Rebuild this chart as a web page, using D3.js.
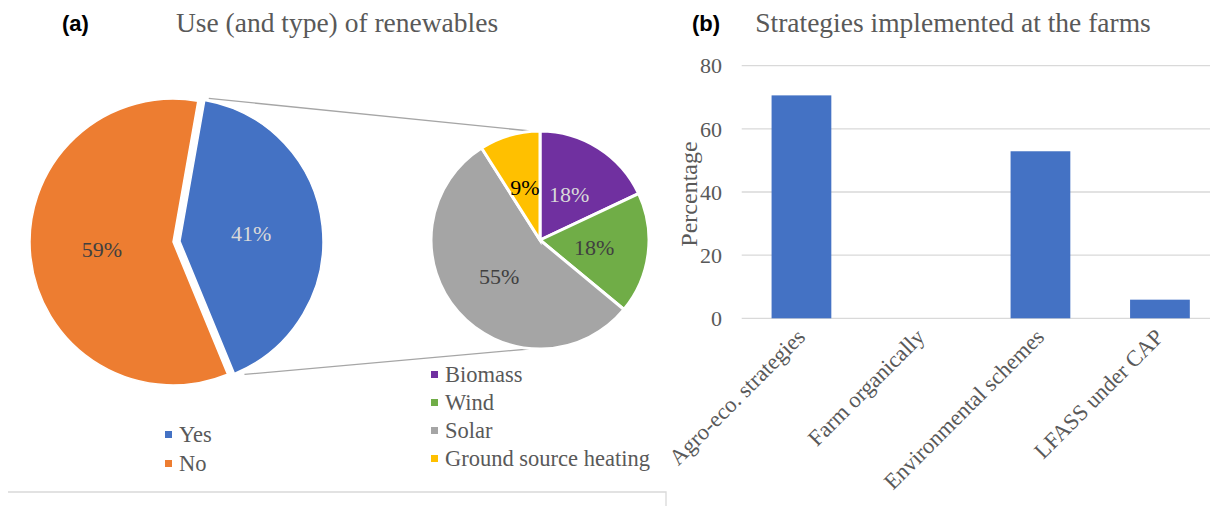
<!DOCTYPE html>
<html>
<head>
    <title>Renewables and strategies</title>
    <script src="https://d3js.org/d3.v7.min.js"></script>
    <style>
        body { margin: 0; background: #fff; }
        svg text { font-family: "Liberation Serif", "Times New Roman", serif; }
    </style>
</head>
<body>

<script>
// Panel (a): use of renewables
const useLabels = ['Yes', 'No'];
const useValues = [41, 59];
const useColors = ['#4472C4', '#ED7D31'];

// Panel (a): type of renewables (the "Yes" slice broken down)
const typeLabels = ['Biomass', 'Wind', 'Solar', 'Ground source heating'];
const typeValues = [18, 18, 55, 9];
const typeColors = ['#7030A0', '#70AD47', '#A5A5A5', '#FFC000'];

// Panel (b): strategies
const strategies = ['Agro-eco. strategies', 'Farm organically', 'Environmental schemes', 'LFASS under CAP'];
const strategyValues = [70.6, 0, 52.9, 5.9];
const yTicks = [0, 20, 40, 60, 80];

const W = 1210, H = 506;
const grey = '#595959';
const serif = '"Liberation Serif", "Times New Roman", serif';
const deg = Math.PI / 180;

const svg = d3.select('body')
    .append('svg')
    .attr('width', W)
    .attr('height', H);

// panel letters and titles
svg.append('text').attr('x', 62).attr('y', 31)
    .style('font-family', '"Liberation Sans", Arial, sans-serif')
    .style('font-weight', 'bold').style('font-size', '22px')
    .text('(a)');
svg.append('text').attr('x', 337).attr('y', 32)
    .attr('text-anchor', 'middle').style('font-family', serif)
    .style('font-size', '27.5px').attr('fill', grey)
    .text('Use (and type) of renewables');

svg.append('text').attr('x', 692).attr('y', 31)
    .style('font-family', '"Liberation Sans", Arial, sans-serif')
    .style('font-weight', 'bold').style('font-size', '22px')
    .text('(b)');
svg.append('text').attr('x', 953).attr('y', 32)
    .attr('text-anchor', 'middle').style('font-family', serif)
    .style('font-size', '27.5px').attr('fill', grey)
    .text('Strategies implemented at the farms');

// ---------- main pie ----------
const mainR = 143;
const mainC = [173, 242];
const explode = 7;

const mainPie = d3.pie().sort(null)
    .startAngle(10 * deg).endAngle(370 * deg)
    .value(d => d);
const mainArcs = mainPie(useValues);
const mainArc = d3.arc().innerRadius(0).outerRadius(mainR);

const gMain = svg.append('g').attr('transform', `translate(${mainC})`);

// offset of the exploded "Yes" slice
function offset(d, i) {
    if (i !== 0) return [0, 0];
    const a = (d.startAngle + d.endAngle) / 2;
    return [Math.sin(a) * explode, -Math.cos(a) * explode];
}

gMain.selectAll('path')
    .data(mainArcs)
    .enter()
    .append('path')
    .attr('transform', (d, i) => `translate(${offset(d, i)})`)
    .attr('d', mainArc)
    .attr('fill', (d, i) => useColors[i])
    .attr('stroke', '#fff')
    .attr('stroke-width', 1.5);

gMain.selectAll('text.lbl')
    .data(mainArcs)
    .enter()
    .append('text')
    .attr('class', 'lbl')
    .attr('transform', (d, i) => {
        const c = mainArc.centroid(d);
        const o = offset(d, i);
        return `translate(${c[0] + o[0]},${c[1] + o[1]})`;
    })
    .attr('text-anchor', 'middle')
    .attr('dy', '0.35em')
    .style('font-family', serif)
    .style('font-size', '22px')
    .attr('fill', (d, i) => i === 0 ? '#D9D9D9' : '#404040')
    .text(d => `${d.data}%`);

// ---------- secondary pie ----------
const subR = 109;
const subC = [540, 240];

const subPie = d3.pie().sort(null).value(d => d);
const subArcs = subPie(typeValues);
const subArc = d3.arc().innerRadius(0).outerRadius(subR);

// connector lines from the edges of the "Yes" slice to the secondary pie
const yes = mainArcs[0];
const yo = offset(yes, 0);
const edge = a => [mainC[0] + yo[0] + Math.sin(a) * mainR, mainC[1] + yo[1] - Math.cos(a) * mainR];
const p1 = edge(yes.startAngle), p2 = edge(yes.endAngle);
svg.append('line')
    .attr('x1', p1[0] + 4).attr('y1', p1[1] - 2)
    .attr('x2', subC[0]).attr('y2', subC[1] - subR + 1)
    .attr('stroke', '#A6A6A6').attr('stroke-width', 1.3);
svg.append('line')
    .attr('x1', p2[0] + 10).attr('y1', p2[1] + 1)
    .attr('x2', subC[0]).attr('y2', subC[1] + subR - 1)
    .attr('stroke', '#A6A6A6').attr('stroke-width', 1.3);

const gSub = svg.append('g').attr('transform', `translate(${subC})`);

gSub.selectAll('path')
    .data(subArcs)
    .enter()
    .append('path')
    .attr('d', subArc)
    .attr('fill', (d, i) => typeColors[i])
    .attr('stroke', '#fff')
    .attr('stroke-width', 3);

const subTextColors = ['#D9D9D9', '#404040', '#404040', '#000'];
gSub.selectAll('text')
    .data(subArcs)
    .enter()
    .append('text')
    .attr('transform', d => `translate(${subArc.centroid(d)})`)
    .attr('text-anchor', 'middle')
    .attr('dy', '0.35em')
    .style('font-family', serif)
    .style('font-size', '22px')
    .attr('fill', (d, i) => subTextColors[i])
    .text(d => `${d.data}%`);

// ---------- legends ----------
function legend(x, y, labels, colors, step) {
    const g = svg.append('g').attr('transform', `translate(${x},${y})`);
    const rows = g.selectAll('g')
        .data(labels)
        .enter()
        .append('g')
        .attr('transform', (d, i) => `translate(0,${i * step})`);
    rows.append('rect')
        .attr('x', 0).attr('y', -11)
        .attr('width', 7).attr('height', 7)
        .attr('fill', (d, i) => colors[i]);
    rows.append('text')
        .attr('x', 14).attr('y', 0)
        .style('font-family', serif)
        .style('font-size', '22.5px')
        .attr('fill', grey)
        .text(d => d);
}
legend(165, 442, useLabels, useColors, 29);
legend(431, 382, typeLabels, typeColors, 28);

// frame edge at the bottom of panel (a)
svg.append('path')
    .attr('d', 'M8,492H666V506')
    .attr('fill', 'none')
    .attr('stroke', '#D9D9D9')
    .attr('stroke-width', 1.3);

// ---------- bar chart ----------
const x = d3.scaleBand()
    .domain(strategies)
    .range([741.7, 1219.7])
    .paddingInner(0.5)
    .paddingOuter(0.25);
const y = d3.scaleLinear().domain([0, 80]).range([318.3, 65.7]);

const gBar = svg.append('g');

gBar.selectAll('line.grid')
    .data(yTicks)
    .enter()
    .append('line')
    .attr('class', 'grid')
    .attr('x1', 741.7).attr('x2', W)
    .attr('y1', d => y(d)).attr('y2', d => y(d))
    .attr('stroke', '#D9D9D9')
    .attr('stroke-width', 1.3);

gBar.selectAll('text.tick')
    .data(yTicks)
    .enter()
    .append('text')
    .attr('class', 'tick')
    .attr('x', 722)
    .attr('y', d => y(d))
    .attr('dy', '0.35em')
    .attr('text-anchor', 'end')
    .style('font-family', serif)
    .style('font-size', '22px')
    .attr('fill', grey)
    .text(d => d);

gBar.selectAll('rect')
    .data(strategyValues)
    .enter()
    .append('rect')
    .attr('x', (d, i) => x(strategies[i]))
    .attr('width', x.bandwidth())
    .attr('y', d => y(d))
    .attr('height', d => y(0) - y(d))
    .attr('fill', '#4472C4');

gBar.selectAll('text.cat')
    .data(strategies)
    .enter()
    .append('text')
    .attr('class', 'cat')
    .attr('transform', d => `translate(${x(d) + x.bandwidth() / 2 + 5},${y(0) + 20}) rotate(-45)`)
    .attr('text-anchor', 'end')
    .style('font-family', serif)
    .style('font-size', '22.5px')
    .attr('fill', grey)
    .text(d => d);

gBar.append('text')
    .attr('transform', `translate(${689},${194}) rotate(-90)`)
    .attr('text-anchor', 'middle')
    .attr('dy', '0.35em')
    .style('font-family', serif)
    .style('font-size', '24px')
    .attr('fill', grey)
    .text('Percentage');
</script>

</body>
</html>
